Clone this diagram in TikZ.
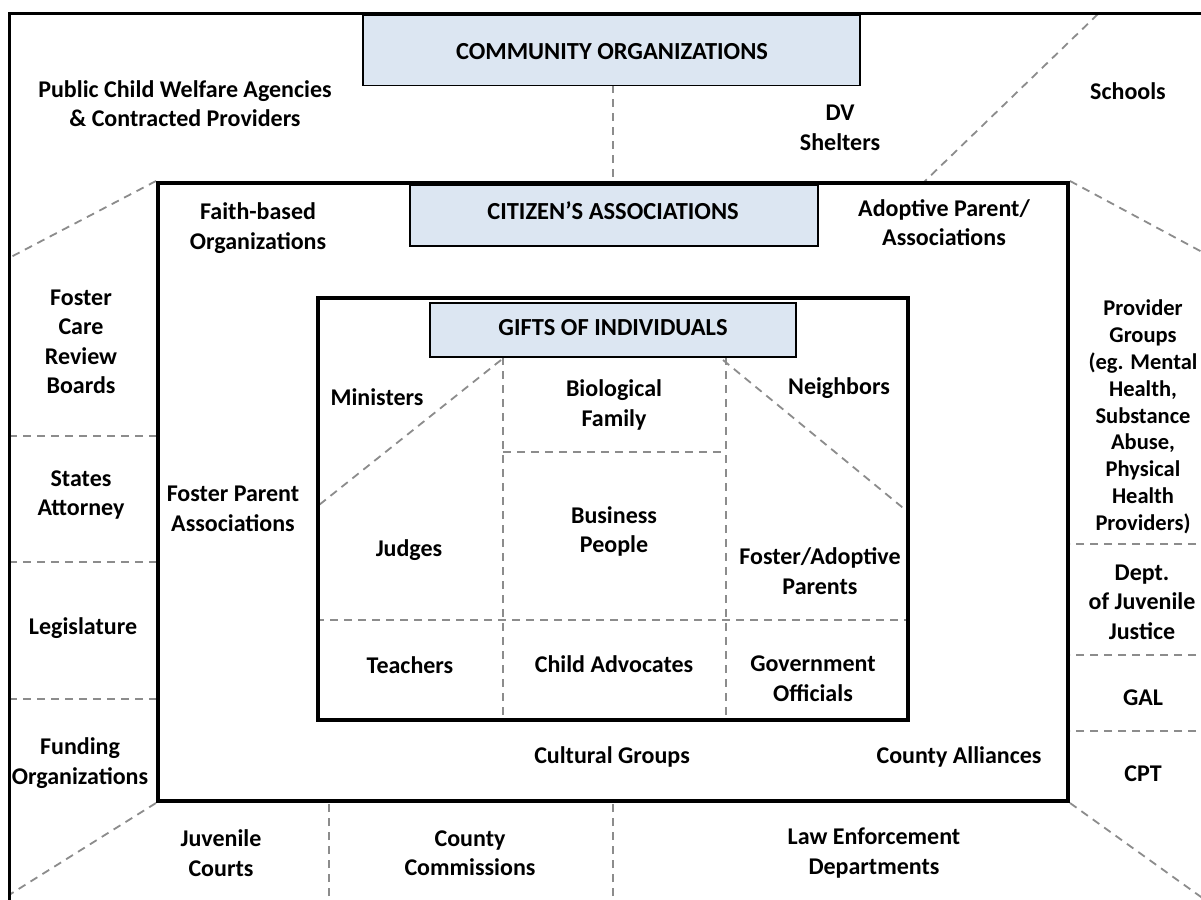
\documentclass[tikz,border=0pt]{standalone}
\usepackage{fontspec}
\setmainfont{Carlito}
\definecolor{boxblue}{HTML}{DCE6F2}
\definecolor{dashgray}{HTML}{8C8C8C}
\begin{document}
\begin{tikzpicture}[x=1pt,y=-1pt,
  lab/.style={font=\fontsize{24}{29.5}\selectfont\bfseries, align=center, inner sep=0pt},
  smalllab/.style={font=\fontsize{22.5}{26.8}\selectfont\bfseries, align=center, inner sep=0pt},
  ttl/.style={font=\fontsize{24.5}{29}\selectfont\bfseries, align=center, inner sep=0pt},
  tbox/.style={draw=black, line width=1.5pt, fill=boxblue, inner sep=0pt},
  bigbox/.style={draw=black, line width=4pt, inner sep=0pt},
  frameline/.style={draw=black, line width=3pt},
  sep/.style={draw=dashgray, line width=1.8pt, dash pattern=on 8pt off 6pt}]
\useasboundingbox (0,0) rectangle (1201,899);
\fill[white] (0,0) rectangle (1201,899);

% named geometry
\coordinate (fTL) at (9,14);
\coordinate (fTR) at (1240,14);
\coordinate (fBL) at (9,940);
\node[bigbox, minimum width=910pt, minimum height=618pt] (mid) at (613,492) {};
\node[bigbox, minimum width=590pt, minimum height=422pt] (inner) at (613,509) {};

% dashed separators (drawn first)
\coordinate (lA) at (9,258);
\coordinate (s1) at (1098,14);
\coordinate (s2) at (923,183);
\coordinate (rA) at (1230,267);
\coordinate (lB) at (9,895);
\coordinate (rB) at (1215,907);
\coordinate (l1) at (9,436);
\coordinate (l2) at (9,562);
\coordinate (l3) at (9,699);
\coordinate (r1) at (1210,544);
\coordinate (r2) at (1210,655);
\coordinate (r3) at (1210,731);
\coordinate (b1) at (329,910);
\coordinate (b2) at (613,910);
\coordinate (g1) at (503,357);
\coordinate (g2) at (726,357);
\coordinate (d1) at (319,505);
\coordinate (d2) at (908,512);

\draw[sep] (613,85) -- (613,183);
\draw[sep] (mid.north west) -- (lA);
\draw[sep] (s1) -- (s2);
\draw[sep] (mid.north east) -- (rA);
\draw[sep] (mid.south west) -- (lB);
\draw[sep] (mid.south east) -- (rB);
\draw[sep] (l1) -- (l1 -| mid.west);
\draw[sep] (l2) -- (l2 -| mid.west);
\draw[sep] (l3) -- (l3 -| mid.west);
\draw[sep] (r1) -- (r1 -| mid.east);
\draw[sep] (r2) -- (r2 -| mid.east);
\draw[sep] (r3) -- (r3 -| mid.east);
\draw[sep] (b1) -- (b1 |- mid.south);
\draw[sep] (b2) -- (b2 |- mid.south);
\draw[sep] (g1) -- (g1 |- inner.south);
\draw[sep] (g2) -- (g2 |- inner.south);
\draw[sep] (503,452) -- (726,452);
\draw[sep] (inner.west |- 0,620) -- (inner.east |- 0,620);
\draw[sep] (501,360) -- (d1);
\draw[sep] (723,360) -- (d2);

% outer frame
\draw[frameline] (fBL) -- (fTL) -- (fTR);

% boxes redrawn on top
\node[bigbox, minimum width=910pt, minimum height=618pt] at (mid.center) {};
\node[bigbox, minimum width=590pt, minimum height=422pt] at (inner.center) {};

% title boxes
\node[tbox, minimum width=497pt, minimum height=70pt] (comm) at (611.5,50.5) {};
\node[ttl] (commt) at (612,52) {COMMUNITY ORGANIZATIONS};
\node[tbox, minimum width=408pt, minimum height=61pt] (cit) at (614,215.5) {};
\node[ttl] (citt) at (613,211) {CITIZEN’S ASSOCIATIONS};
\node[tbox, minimum width=366pt, minimum height=54pt] (gift) at (613,330) {};
\node[ttl] (giftt) at (613,328) {GIFTS OF INDIVIDUALS};

% labels outside middle box
\node[lab] (pcw) at (185,103.5) {Public Child Welfare Agencies\\\& Contracted Providers};
\node[lab] (dv) at (840,128) {DV\\Shelters};
\node[lab] (schools) at (1128,91) {Schools};
\node[lab] (fcrb) at (81,342) {Foster\\Care\\Review\\Boards};
\node[lab] (states) at (81,495) {States\\Attorney};
\node[lab] (legis) at (83,628) {Legislature};
\node[lab] (fund) at (80,763) {Funding\\Organizations};
\node[smalllab] (prov) at (1143,417) {Provider\\Groups\\(eg. Mental\\Health,\\Substance\\Abuse,\\Physical\\Health\\Providers)};
\node[lab] (djj) at (1142,602) {Dept.\\of Juvenile\\Justice};
\node[lab] (gal) at (1143,698) {GAL};
\node[lab] (cpt) at (1143,774) {CPT};
\node[lab] (juv) at (221,853) {Juvenile\\Courts};
\node[lab] (ccom) at (470,853) {County\\Commissions};
\node[lab] (law) at (874,853) {Law Enforcement\\Departments};

% labels in middle box
\node[lab] (faith) at (258,228) {Faith-based\\Organizations};
\node[lab] (adopt) at (944,222.5) {Adoptive Parent/\\Associations};
\node[lab] (fpa) at (233,509) {Foster Parent\\Associations};
\node[lab] (cult) at (612,757) {Cultural Groups};
\node[lab] (calli) at (959,757) {County Alliances};

% labels in inner box
\node[lab] (min) at (377,397) {Ministers};
\node[lab] (bio) at (614,405) {Biological\\Family};
\node[lab] (neigh) at (839,388) {Neighbors};
\node[lab] (judg) at (409,550) {Judges};
\node[lab] (bus) at (614,531.5) {Business\\People};
\node[lab] (fap) at (820,571) {Foster/Adoptive\\Parents};
\node[lab] (teach) at (410,665) {Teachers};
\node[lab] (cadv) at (614,664) {Child Advocates};
\node[lab] (gov) at (813,678.5) {Government\\Officials};
\end{tikzpicture}
\end{document}
